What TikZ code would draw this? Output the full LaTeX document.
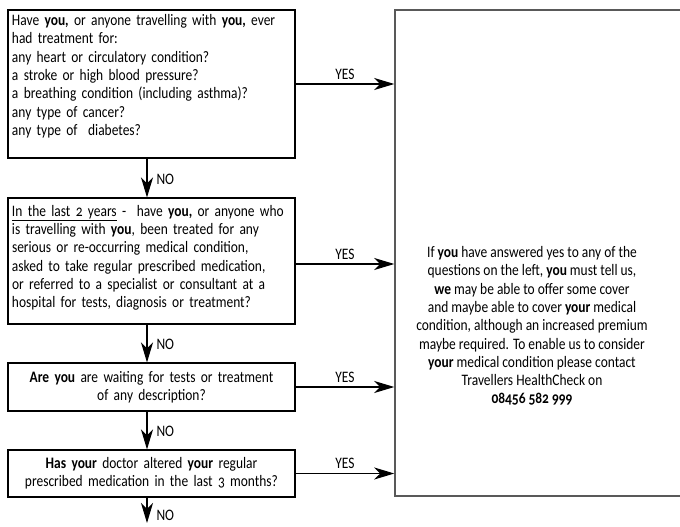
\documentclass[tikz,border=0pt]{standalone}
\usepackage{fontspec}
\setmainfont[Numbers=OldStyle, FakeStretch=0.84]{Carlito}
\usetikzlibrary{arrows.meta}
\tikzset{
  qbox/.style={draw=black, line width=1.1pt, rectangle, inner sep=4pt,
    minimum width=287pt, text width=279pt, font=\fontsize{16pt}{18.3pt}\selectfont},
  ybox/.style={draw=black!65, line width=1.5pt, rectangle, inner sep=0pt},
  flow/.style={line width=1.1pt, -{Stealth[length=20pt,width=12pt,inset=6pt]}},
  lab/.style={font=\fontsize{16pt}{17pt}\selectfont, inner sep=1pt}
}
\begin{document}
\begin{tikzpicture}[x=1pt,y=-1pt]
\useasboundingbox (0,0) rectangle (680,527);
\clip (0,0) rectangle (680,527);
\fill[white] (0,0) rectangle (680,527);
\node[qbox, minimum height=148pt, align=left] (b1) at (151.5,84)
{Have \textbf{you,} or anyone travelling with \textbf{you,} ever\\
had treatment for:\\
any heart or circulatory condition?\\
a stroke or high blood pressure?\\
a breathing condition (including asthma)?\\
any type of cancer?\\
any type of\ \ diabetes?\\[0pt]\mbox{}};
\node[qbox, minimum height=126pt, align=left] (b2) at (151.5,261)
{\underline{In the last 2 years} -\ \ have \textbf{you,} or anyone who\\
is travelling with \textbf{you}, been treated for any\\
serious or re-occurring medical condition,\\
asked to take regular prescribed medication,\\
or referred to a specialist or consultant at a\\
hospital for tests, diagnosis or treatment?\\[-9.3pt]\mbox{}};
\node[qbox, minimum height=48pt, align=center] (b3) at (151.5,387)
{\textbf{Are you} are waiting for tests or treatment\\
of any description?};
\node[qbox, minimum height=47pt, align=center] (b4) at (151.5,473.5)
{\textbf{Has your} doctor altered \textbf{your} regular\\
prescribed medication in the last 3 months?};
\node[ybox, minimum width=300pt, minimum height=486pt] (r) at (545,253) {};
\node[align=center, inner sep=0pt, font=\fontsize{16pt}{18.3pt}\selectfont] (rt) at (532,326)
{If \textbf{you} have answered yes to any of the\\
questions on the left, \textbf{you} must tell us,\\
\textbf{we} may be able to offer some cover\\
and maybe able to cover \textbf{your} medical\\
condition, although an increased premium\\
maybe required. To enable us to consider\\
\textbf{your} medical condition please contact\\
Travellers HealthCheck on\\
\textbf{08456 582 999}};
\coordinate (end) at (147,523);
% NO arrows
\draw[flow] ([xshift=-4.5pt]b1.south) -- ([xshift=-4.5pt]b2.north) node[lab, midway, right=8pt, yshift=-1pt] {NO};
\draw[flow] ([xshift=-4.5pt]b2.south) -- ([xshift=-4.5pt]b3.north) node[lab, midway, right=8pt, yshift=-1pt] {NO};
\draw[flow] ([xshift=-4.5pt]b3.south) -- ([xshift=-4.5pt]b4.north) node[lab, midway, right=8pt, yshift=-1pt] {NO};
\draw[flow] ([xshift=-4.5pt]b4.south) -- (end) node[lab, pos=0.7, right=8pt] {NO};
% YES arrows
\draw[flow] (b1.east) -- (b1.east -| r.west) node[lab, midway, above=3pt] {YES};
\draw[flow] ([yshift=-3pt]b2.east) -- ([yshift=-3pt]b2.east -| r.west) node[lab, midway, above=3pt] {YES};
\draw[flow] (b3.east) -- (b3.east -| r.west) node[lab, midway, above=3pt] {YES};
\draw[flow] (b4.east) -- (b4.east -| r.west) node[lab, midway, above=3pt] {YES};
\end{tikzpicture}
\end{document}
